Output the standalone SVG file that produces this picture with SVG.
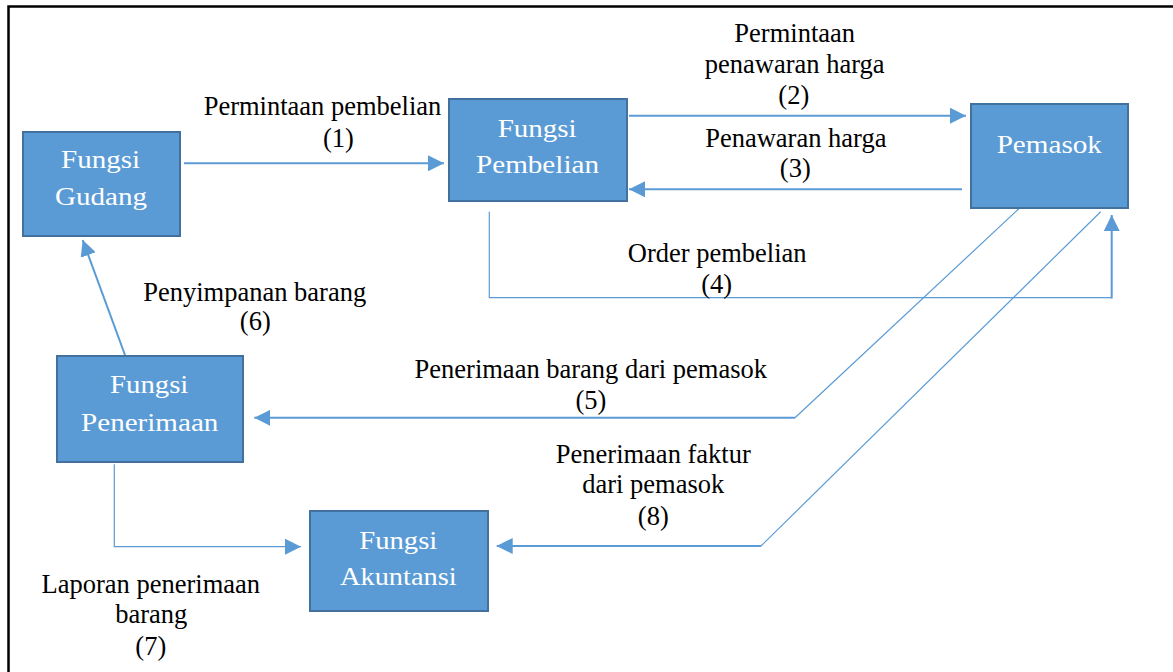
<svg xmlns="http://www.w3.org/2000/svg" width="1173" height="672" viewBox="0 0 1173 672">
<style>
.box{fill:#5B9BD5;stroke:#41719C;stroke-width:2}
.bt{font-family:"Liberation Serif","Times New Roman",serif;font-size:25.5px;fill:#FFFFFF;text-anchor:middle}
.lb{font-family:"Liberation Serif","Times New Roman",serif;font-size:26.5px;fill:#000000;text-anchor:middle}
.c{fill:none;stroke:#5B9BD5;stroke-width:2}
.t{fill:none;stroke:#5B9BD5;stroke-width:1.2}
</style>
<defs>
<marker id="ah" markerUnits="userSpaceOnUse" markerWidth="16" markerHeight="16" refX="16" refY="8" orient="auto" viewBox="0 0 16 16">
<path d="M0,0 L16,8 L0,16 z" fill="#5B9BD5"/>
</marker>
</defs>
<rect width="1173" height="672" fill="#FFFFFF"/>
<path d="M8.5,672 V6.5 H1173" fill="none" stroke="#000000" stroke-width="2.5"/>

<g id="connectors">
<line class="c" x1="184" y1="163.3" x2="444" y2="163.3" marker-end="url(#ah)"/>
<line class="c" x1="629" y1="115.7" x2="966" y2="115.7" marker-end="url(#ah)"/>
<line class="c" x1="962" y1="189.3" x2="629" y2="189.3" marker-end="url(#ah)"/>
<polyline class="t" points="489.3,211.7 489.3,297.7 1111.7,297.7"/>
<line class="c" x1="1111.7" y1="298.5" x2="1111.7" y2="215" marker-end="url(#ah)"/>
<line class="t" x1="1019.3" y1="208.3" x2="795" y2="417.8"/>
<line class="c" x1="795" y1="417.8" x2="254.3" y2="417.8" marker-end="url(#ah)"/>
<line class="c" x1="125" y1="355" x2="82.7" y2="240" marker-end="url(#ah)"/>
<polyline class="t" points="114.3,464.3 114.3,546.7 301,546.7" marker-end="url(#ah)"/>
<line class="t" x1="1100.7" y1="211.7" x2="761" y2="546"/>
<line class="c" x1="761" y1="546" x2="496.7" y2="546" marker-end="url(#ah)"/>
</g>

<g id="gudang">
<rect class="box" x="23" y="132" width="157" height="104"/>
<text class="bt" x="100.5" y="168.3" textLength="79" lengthAdjust="spacingAndGlyphs">Fungsi</text>
<text class="bt" x="101" y="204.5" textLength="92" lengthAdjust="spacingAndGlyphs">Gudang</text>
</g>
<g id="pembelian">
<rect class="box" x="449" y="99" width="178" height="102"/>
<text class="bt" x="537.2" y="136.7" textLength="79" lengthAdjust="spacingAndGlyphs">Fungsi</text>
<text class="bt" x="537.5" y="173" textLength="123" lengthAdjust="spacingAndGlyphs">Pembelian</text>
</g>
<g id="pemasok">
<rect class="box" x="971" y="104" width="157" height="104"/>
<text class="bt" x="1049.3" y="153.3" textLength="105.3" lengthAdjust="spacingAndGlyphs">Pemasok</text>
</g>
<g id="penerimaan">
<rect class="box" x="57" y="356" width="186" height="106"/>
<text class="bt" x="149.2" y="393.3" textLength="78.3" lengthAdjust="spacingAndGlyphs">Fungsi</text>
<text class="bt" x="149.7" y="430.7" textLength="137.3" lengthAdjust="spacingAndGlyphs">Penerimaan</text>
</g>
<g id="akuntansi">
<rect class="box" x="310" y="511" width="178" height="100"/>
<text class="bt" x="398.3" y="549.3" textLength="78" lengthAdjust="spacingAndGlyphs">Fungsi</text>
<text class="bt" x="398.3" y="585" textLength="116.7" lengthAdjust="spacingAndGlyphs">Akuntansi</text>
</g>

<g id="labels">
<text class="lb" x="322.5" y="115">Permintaan pembelian</text>
<text class="lb" x="338.5" y="146.7">(1)</text>
<text class="lb" x="794.7" y="42.3">Permintaan</text>
<text class="lb" x="794.7" y="73.3">penawaran harga</text>
<text class="lb" x="793.8" y="104">(2)</text>
<text class="lb" x="795.8" y="147.3">Penawaran harga</text>
<text class="lb" x="795.3" y="176.7">(3)</text>
<text class="lb" x="717.2" y="262.3">Order pembelian</text>
<text class="lb" x="716.7" y="292.7">(4)</text>
<text class="lb" x="254.7" y="300.7">Penyimpanan barang</text>
<text class="lb" x="255.3" y="330">(6)</text>
<text class="lb" x="590.8" y="377.7">Penerimaan barang dari pemasok</text>
<text class="lb" x="591" y="409.3">(5)</text>
<text class="lb" x="653.3" y="462.7">Penerimaan faktur</text>
<text class="lb" x="653.3" y="492.7">dari pemasok</text>
<text class="lb" x="653.3" y="525">(8)</text>
<text class="lb" x="150.8" y="593.3">Laporan penerimaan</text>
<text class="lb" x="151.2" y="623.3">barang</text>
<text class="lb" x="150.8" y="655">(7)</text>
</g>
</svg>
